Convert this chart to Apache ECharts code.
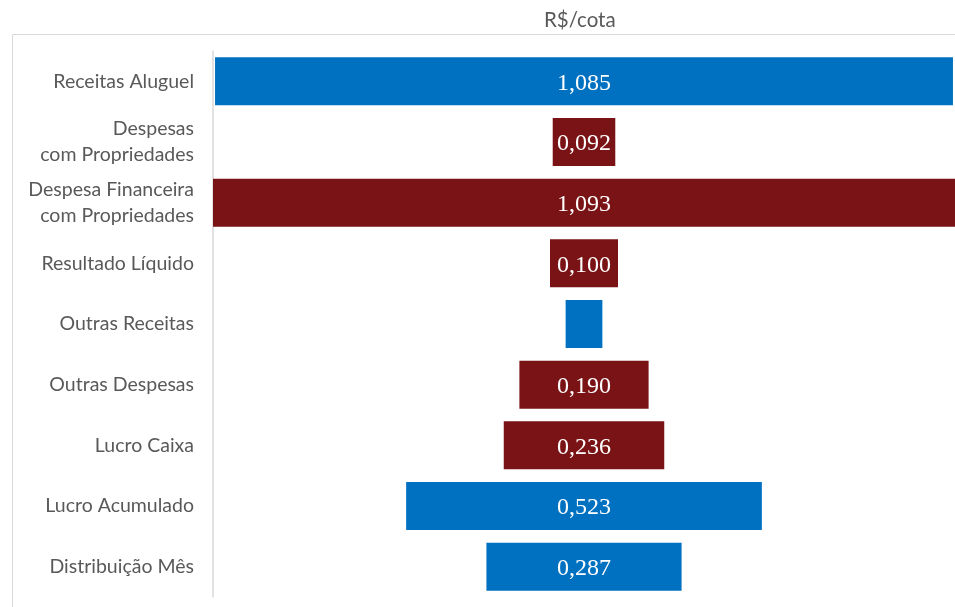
<!DOCTYPE html>
<html><head><meta charset="utf-8">
<script src="https://cdn.jsdelivr.net/npm/echarts@6/dist/echarts.min.js"></script>
<style>html,body{margin:0;padding:0;background:#fff}#c{width:955px;height:607px}</style>
</head><body><div id="c"></div>
<script>
const categories = ['Receitas Aluguel','Despesas\ncom Propriedades','Despesa Financeira\ncom Propriedades','Resultado Líquido','Outras Receitas','Outras Despesas','Lucro Caixa','Lucro Acumulado','Distribuição Mês'];
const values = [1.085, 0.092, 1.093, 0.100, 0.054, 0.190, 0.236, 0.523, 0.287];
const kinds = ['r','d','d','d','r','d','d','r','r'];
const showLabel = [true,true,true,true,false,true,true,true,true];
const title = 'R$/cota';

const AXMAX = 1.091;
const BLUE = '#0070C0', RED = '#7A1315';
const offsets = values.map(v => Math.max(0, (AXMAX - v) / 2));

const chart = echarts.init(document.getElementById('c'));
chart.setOption({
  animation: false,
  title: { text: title, left: 539, top: 5,
    textStyle: { fontFamily: 'Lato', fontSize: 20.5, fontWeight: 'normal', color: '#595959' } },
  graphic: [
    { type: 'line', shape: { x1: 12.5, y1: 34.5, x2: 955, y2: 34.5 }, style: { stroke: '#d9d9d9', lineWidth: 1 } },
    { type: 'line', shape: { x1: 12.5, y1: 34.5, x2: 12.5, y2: 607 }, style: { stroke: '#d9d9d9', lineWidth: 1 } }
  ],
  grid: { left: 213, right: 0, top: 51, bottom: 10, containLabel: false },
  xAxis: { type: 'value', min: 0, max: AXMAX, show: false },
  yAxis: {
    type: 'category', data: categories, inverse: true,
    axisLine: { show: true, lineStyle: { color: '#d9d9d9', width: 1.5 } },
    axisTick: { show: false },
    axisLabel: { margin: 19, fontFamily: 'Lato', fontSize: 19.5, color: '#595959', lineHeight: 26, align: 'right' }
  },
  series: [
    { type: 'bar', stack: 'f', silent: true, barWidth: 48, data: offsets,
      itemStyle: { color: 'transparent' } },
    { type: 'bar', stack: 'f', barWidth: 48,
      data: values.map((v, i) => ({
        value: v,
        itemStyle: { color: kinds[i] === 'r' ? BLUE : RED },
        label: { show: showLabel[i] }
      })),
      label: { position: 'inside', offset: [0, 2], color: '#fff', fontFamily: 'Liberation Serif', fontSize: 24,
        formatter: p => p.value.toFixed(3).replace('.', ',') }
    }
  ]
});
</script></body></html>
